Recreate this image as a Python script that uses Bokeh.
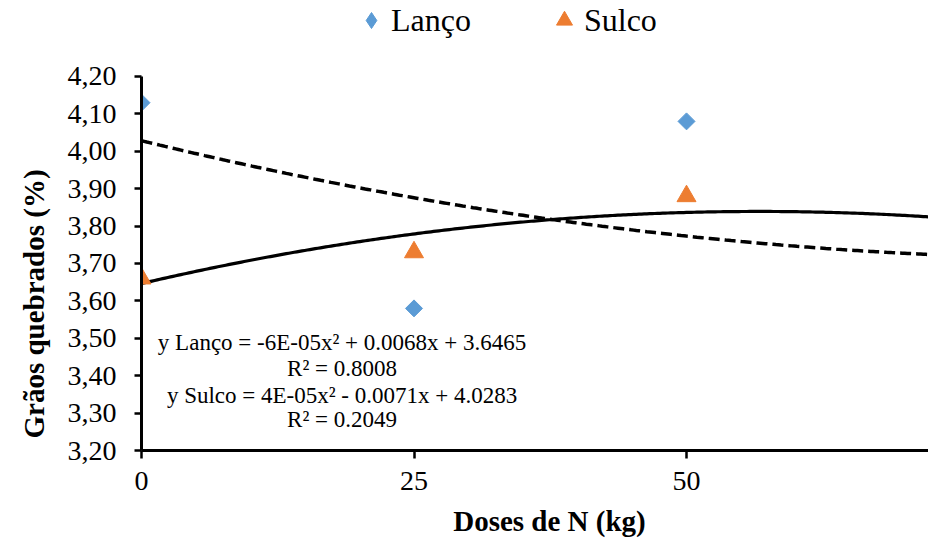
import numpy as np
from bokeh.plotting import figure
from bokeh.models import Range1d, FixedTicker, Legend, LegendItem, Label, Title
from bokeh.embed import file_html
from bokeh.resources import INLINE

# ---- data ----
doses = [0, 25, 50]
lanco = [4.13, 3.58, 4.08]
sulco = [3.66, 3.73, 3.88]
x_ticks = [0, 25, 50]
x_tick_labels = ["0", "25", "50"]
y_ticks = [3.2, 3.3, 3.4, 3.5, 3.6, 3.7, 3.8, 3.9, 4.0, 4.1, 4.2]
y_tick_labels = ["3,20", "3,30", "3,40", "3,50", "3,60", "3,70", "3,80", "3,90", "4,00", "4,10", "4,20"]
# trendline coefficients as printed on the chart (a, b, c for a*x^2 + b*x + c)
trend_lanco = [-6e-05, 0.0068, 3.6465]
trend_sulco = [4e-05, -0.0071, 4.0283]
eq_lines = [
    "y Lanço = -6E-05x² + 0.0068x + 3.6465",
    "R² = 0.8008",
    "y Sulco = 4E-05x² - 0.0071x + 4.0283",
    "R² = 0.2049",
]
eq_y = [3.488, 3.418, 3.347, 3.282]

FONT = "Liberation Serif"
BLUE = "#5B9BD5"
ORANGE = "#ED7D31"
X_END = 72.2
Y_MIN, Y_MAX = 3.2, 4.2
Y_TOP = 4.4032  # room above the axis for the legend

p = figure(width=928, height=539, output_backend="svg", toolbar_location=None,
           x_range=Range1d(0, X_END), y_range=Range1d(Y_MIN, Y_TOP),
           min_border_left=141, min_border_right=0, min_border_top=0, min_border_bottom=89)
p.outline_line_color = None
p.xgrid.visible = False
p.ygrid.visible = False
p.background_fill_color = "white"
p.border_fill_color = "white"

xs = np.linspace(0, X_END, 300)
yl = trend_lanco[0] * xs**2 + trend_lanco[1] * xs + trend_lanco[2]
ys = trend_sulco[0] * xs**2 + trend_sulco[1] * xs + trend_sulco[2]
p.line(xs, yl, line_color="black", line_width=3.2)
p.line(xs, ys, line_color="black", line_width=3.5, line_dash="11 5")

r1 = p.scatter(doses, lanco, marker="square", angle=np.pi / 4, size=12,
               fill_color=BLUE, line_color=BLUE)
r2 = p.scatter(doses, sulco, marker="triangle", size=19,
               fill_color=ORANGE, line_color=ORANGE)
# legend swatches (a single NaN point, never drawn in the plot area)
lg1 = p.scatter([np.nan], [np.nan], marker="diamond", fill_color=BLUE, line_color=BLUE)
lg2 = p.scatter([np.nan], [np.nan], marker="triangle", fill_color=ORANGE, line_color=ORANGE)

for ax in (p.xaxis[0], p.yaxis[0]):
    ax.axis_line_width = 3
    ax.axis_line_color = "black"
    ax.major_tick_line_width = 2.5
    ax.major_tick_line_color = "black"
    ax.major_tick_in = 0
    ax.minor_tick_line_color = None
    ax.major_label_text_font = FONT
    ax.major_label_text_font_size = "28px"
    ax.major_label_text_color = "black"
    ax.axis_label_text_font = FONT
    ax.axis_label_text_font_size = "29px"
    ax.axis_label_text_font_style = "bold"
    ax.axis_label_text_color = "black"

p.xaxis.ticker = FixedTicker(ticks=x_ticks)
p.xaxis.major_label_overrides = {t: l for t, l in zip(x_ticks, x_tick_labels)}
p.xaxis.major_tick_out = 8
p.xaxis.major_label_standoff = 13
p.xaxis.axis_label = "\u2003Doses de N (kg)"
p.xaxis.axis_label_standoff = 12

p.yaxis.bounds = (Y_MIN, Y_MAX)
p.yaxis.ticker = FixedTicker(ticks=y_ticks)
p.yaxis.major_label_overrides = {t: l for t, l in zip(y_ticks, y_tick_labels)}
p.yaxis.major_tick_out = 7
p.yaxis.major_label_standoff = 18

# y title as a left-side title, starting near the bottom like in the reference
p.add_layout(Title(text="Grãos quebrados (%)", align="left", offset=12, standoff=30,
                   text_font=FONT, text_font_size="29px", text_font_style="bold",
                   text_color="black"), "left")

for txt, yv in zip(eq_lines, eq_y):
    p.add_layout(Label(x=18.4, y=yv, text=txt, text_align="center", text_baseline="middle",
                       text_font=FONT, text_font_size="23px", text_color="black"))

legend = Legend(items=[LegendItem(label="Lanço", renderers=[lg1]),
                       LegendItem(label="Sulco", renderers=[lg2])],
                orientation="horizontal", location=(210, 410),
                label_text_font=FONT, label_text_font_size="32px", label_text_color="black",
                glyph_width=40, glyph_height=40, label_standoff=0, spacing=73,
                padding=0, margin=0, border_line_color=None, background_fill_alpha=0)
p.add_layout(legend, "center")

open("out.html", "w").write(file_html(p, INLINE))
